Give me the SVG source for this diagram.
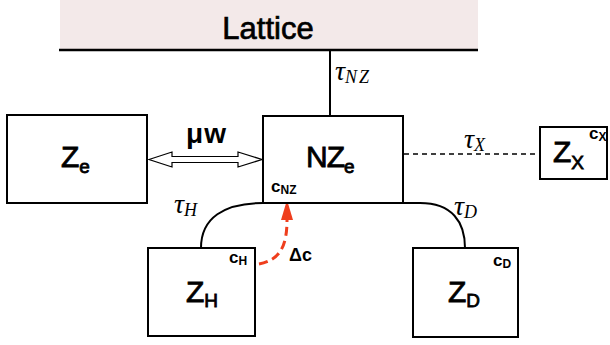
<svg xmlns="http://www.w3.org/2000/svg" width="610" height="345" viewBox="0 0 610 345">
<defs>
<style>
.box{fill:#fff;stroke:#000;stroke-width:2}
.lbl{font-family:"Liberation Sans",Arial,sans-serif;fill:#000}
.big{font-size:30px;stroke:#000;stroke-width:0.8}
.sub{font-size:19px}
.c{font-family:"Liberation Sans",Arial,sans-serif;font-weight:bold;font-size:17px}
.cs{font-size:12px}
.tau{font-family:"Liberation Serif","Times New Roman",serif;font-style:italic;font-size:28px}
.taus{font-size:18px;letter-spacing:2px}
.wire{fill:none;stroke:#000;stroke-width:2}
</style>
</defs>

<g id="lattice">
<rect x="60" y="0" width="418" height="50" fill="#f3e9e9"/>
<line x1="59" y1="50" x2="478" y2="50" stroke="#000" stroke-width="2.5"/>
<text class="lbl" x="268" y="39" font-size="31" text-anchor="middle" stroke="#000" stroke-width="0.7">Lattice</text>
</g>

<g id="connectors">
<line x1="330" y1="50" x2="330" y2="116" stroke="#000" stroke-width="2"/>
<polygon points="149,159.5 172,152 172,156.5 238,156.5 238,152 262,159.5 238,167 238,162.5 172,162.5 172,167" fill="#fff" stroke="#000" stroke-width="1.2" stroke-linejoin="miter"/>
<line x1="404" y1="154" x2="539" y2="154" stroke="#000" stroke-width="1.3" stroke-dasharray="5,4"/>
<path class="wire" d="M201,248 C201,218 224,203 263,203"/>
<path class="wire" d="M403,203 L420,203 C452,203 465,222 465,248"/>
<path d="M259,264 C280,260 287,246 287,220" fill="none" stroke="#ef3e1d" stroke-width="3" stroke-dasharray="9,5"/>
<path d="M281,220 L287,200 L293,220 Z" fill="#ef3e1d"/>
<text class="lbl" x="186" y="143" font-size="28" font-weight="bold" letter-spacing="1">μw</text>
<text class="tau" x="335" y="80">τ<tspan class="taus" dy="3" letter-spacing="4">NZ</tspan></text>
<text class="tau" x="464" y="148">τ<tspan class="taus" dy="3">X</tspan></text>
<text class="tau" x="174" y="213">τ<tspan class="taus" dy="3">H</tspan></text>
<text class="tau" x="454" y="215">τ<tspan class="taus" dy="3">D</tspan></text>
<text class="lbl" x="289" y="261" font-size="18" font-weight="bold">Δc</text>
</g>

<g id="Ze">
<rect class="box" x="7" y="115" width="140" height="88"/>
<text class="lbl big" x="61" y="167">Z<tspan class="sub" dy="6">e</tspan></text>
</g>

<g id="NZe">
<rect class="box" x="263" y="116" width="140" height="87"/>
<text class="lbl big" x="306" y="167" letter-spacing="-1">NZ<tspan class="sub" dy="6" letter-spacing="0">e</tspan></text>
<text class="c" x="271" y="192">c<tspan class="cs" dy="2">NZ</tspan></text>
</g>

<g id="Zx">
<rect class="box" x="540" y="127" width="67" height="52"/>
<text class="lbl big" x="553" y="162" font-size="28">Z<tspan class="sub" dy="7">X</tspan></text>
<text class="c" x="589" y="139">c<tspan class="cs" dy="2">X</tspan></text>
</g>

<g id="ZH">
<rect class="box" x="148" y="248" width="107" height="88"/>
<text class="lbl big" x="186" y="302">Z<tspan class="sub" dy="5">H</tspan></text>
<text class="c" x="229" y="263">c<tspan class="cs" dy="2">H</tspan></text>
</g>

<g id="ZD">
<rect class="box" x="413" y="248" width="105" height="89"/>
<text class="lbl big" x="448" y="302">Z<tspan class="sub" dy="5">D</tspan></text>
<text class="c" x="493" y="266">c<tspan class="cs" dy="2">D</tspan></text>
</g>
</svg>
